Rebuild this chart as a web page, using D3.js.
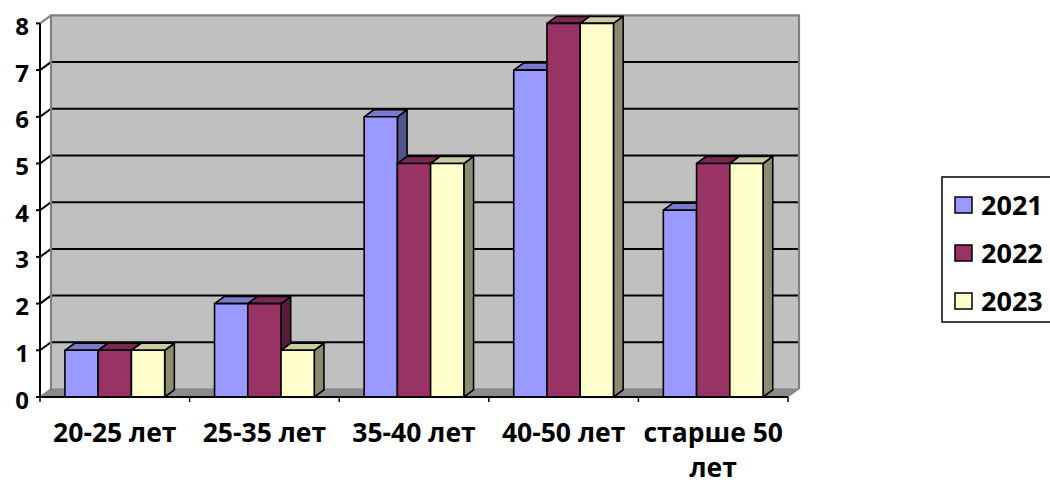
<!DOCTYPE html>
<html>
<head>
<meta charset="utf-8">
<script src="https://cdn.jsdelivr.net/npm/d3@7"></script>
<style>
  body { margin: 0; background: #fff; }
  text { font-family: "Open Sans", "DejaVu Sans", sans-serif; font-weight: bold; fill: #000; }
</style>
</head>
<body>
<div id="chart"></div>
<script>
// data
const categories = ["20-25 лет", "25-35 лет", "35-40 лет", "40-50 лет", "старше 50 лет"];
const seriesNames = ["2021", "2022", "2023"];
const values2021 = [1, 2, 6, 7, 4];
const values2022 = [1, 2, 5, 8, 5];
const values2023 = [1, 1, 5, 8, 5];
const yTicks = [0, 1, 2, 3, 4, 5, 6, 7, 8];

const seriesValues = [values2021, values2022, values2023];
const colors = ["#9999FF", "#993366", "#FFFFCC"];

const W = 1050, H = 485;
// front plane of the 3d box
const left = 40, right = 788, y0 = 397, y8 = 23.4;
// depth offset of the back wall
const depthX = 11, depthY = -8;
// bar depth (fraction of full depth)
const zFront = 0, zBack = 0.88;

const x = d3.scaleBand().domain(categories).range([left, right]).paddingInner(0).paddingOuter(0);
const y = d3.scaleLinear().domain([0, 8]).range([y0, y8]);
// inner band for the three bars (gap width 150%)
const xs = d3.scaleBand().domain(seriesNames).range([0, x.bandwidth()]).paddingInner(0).paddingOuter(0.75);

function proj(px, py, z) { return [px + z * depthX, py + z * depthY]; }
function shade(c, k) {
  const col = d3.rgb(c);
  return d3.rgb(col.r * k, col.g * k, col.b * k).formatHex();
}
const line = d3.line();

const svg = d3.select("#chart").append("svg")
  .attr("width", W).attr("height", H);

// back wall
const wall = [proj(left, y(0), 1), proj(left, y(8), 1), proj(right, y(8), 1), proj(right, y(0), 1)];
svg.append("path").attr("d", line(wall) + "Z")
  .attr("fill", "#C0C0C0").attr("stroke", "none");

// floor
const floor = [proj(left, y0, 0), proj(left, y0, 1), proj(right, y0, 1), proj(right, y0, 0)];
svg.append("path").attr("d", line(floor) + "Z")
  .attr("fill", "#8A8A8A").attr("stroke", "#808080").attr("stroke-width", 1);

// gridlines (back wall + left side diagonals)
const grid = svg.append("g");
yTicks.filter(t => t > 0 && t < 8).forEach(t => {
  grid.append("path")
    .attr("d", line([[left, y(t)], proj(left, y(t), 1), proj(right, y(t), 1)]))
    .attr("fill", "none").attr("stroke", "#000").attr("stroke-width", 2);
});

// wall border
svg.append("path")
  .attr("d", line([proj(left, y0, 1), proj(left, y(8), 1), proj(right, y(8), 1), proj(right, y0, 1)]))
  .attr("fill", "none").attr("stroke", "#808080").attr("stroke-width", 2.2);
svg.append("path")
  .attr("d", line([[left, y(8)], proj(left, y(8), 1)]))
  .attr("fill", "none").attr("stroke", "#808080").attr("stroke-width", 2);
svg.append("path")
  .attr("d", line([[left, y0], proj(left, y0, 1)]))
  .attr("fill", "none").attr("stroke", "#808080").attr("stroke-width", 1.5);

// bars, left to right
const bars = svg.append("g");
categories.forEach((cat, ci) => {
  seriesNames.forEach((s, si) => {
    const v = seriesValues[si][ci];
    const xl = x(cat) + xs(s), xr = xl + xs.bandwidth();
    const yt = y(v), yb = y(0);
    const c = colors[si];
    const side = [proj(xr, yb, zFront), proj(xr, yt, zFront), proj(xr, yt, zBack), proj(xr, yb, zBack)];
    const top = [proj(xl, yt, zFront), proj(xl, yt, zBack), proj(xr, yt, zBack), proj(xr, yt, zFront)];
    const front = [proj(xl, yb, zFront), proj(xl, yt, zFront), proj(xr, yt, zFront), proj(xr, yb, zFront)];
    bars.append("path").attr("d", line(side) + "Z")
      .attr("fill", shade(c, 0.55)).attr("stroke", "#000").attr("stroke-width", 1.6).attr("stroke-linejoin", "round");
    bars.append("path").attr("d", line(top) + "Z")
      .attr("fill", shade(c, 0.8)).attr("stroke", "#000").attr("stroke-width", 1.6).attr("stroke-linejoin", "round");
    bars.append("path").attr("d", line(front) + "Z")
      .attr("fill", c).attr("stroke", "#000").attr("stroke-width", 1.6).attr("stroke-linejoin", "round");
  });
});

// y axis
const yAxis = svg.append("g");
yAxis.append("line").attr("x1", left).attr("x2", left).attr("y1", y(8)).attr("y2", y0)
  .attr("stroke", "#000").attr("stroke-width", 2);
yTicks.forEach(t => {
  yAxis.append("line").attr("x1", left - 4).attr("x2", left).attr("y1", y(t)).attr("y2", y(t))
    .attr("stroke", "#000").attr("stroke-width", 2);
  yAxis.append("text").attr("x", 29).attr("y", y(t) + 11.5)
    .attr("text-anchor", "end").style("font-size", "24px").text(t);
});

// x axis
const xAxis = svg.append("g");
xAxis.append("line").attr("x1", left).attr("x2", right).attr("y1", y0).attr("y2", y0)
  .attr("stroke", "#000").attr("stroke-width", 2);
categories.concat([null]).forEach((cat, i) => {
  const px = cat ? x(cat) : right;
  xAxis.append("line").attr("x1", px).attr("x2", px).attr("y1", y0).attr("y2", y0 + 5)
    .attr("stroke", "#000").attr("stroke-width", 1.5);
});
categories.forEach(cat => {
  const cx = x(cat) + x.bandwidth() / 2;
  const t = xAxis.append("text").attr("x", cx).attr("y", 442)
    .attr("text-anchor", "middle").style("font-size", "26.5px");
  if (cat === "старше 50 лет") {
    t.append("tspan").attr("x", cx).attr("y", 442).text("старше 50");
    t.append("tspan").attr("x", cx).attr("y", 477).text("лет");
  } else {
    t.text(cat);
  }
});

// legend
const legend = svg.append("g");
legend.append("rect").attr("x", 942).attr("y", 177).attr("width", 120).attr("height", 145)
  .attr("fill", "#fff").attr("stroke", "#000").attr("stroke-width", 1.5);
seriesNames.forEach((s, i) => {
  const cy = 205 + i * 48;
  legend.append("rect").attr("x", 955).attr("y", cy - 8).attr("width", 17).attr("height", 16)
    .attr("fill", colors[i]).attr("stroke", "#000").attr("stroke-width", 1.5);
  legend.append("text").attr("x", 981).attr("y", cy + 10).style("font-size", "27px").text(s);
});
</script>
</body>
</html>
